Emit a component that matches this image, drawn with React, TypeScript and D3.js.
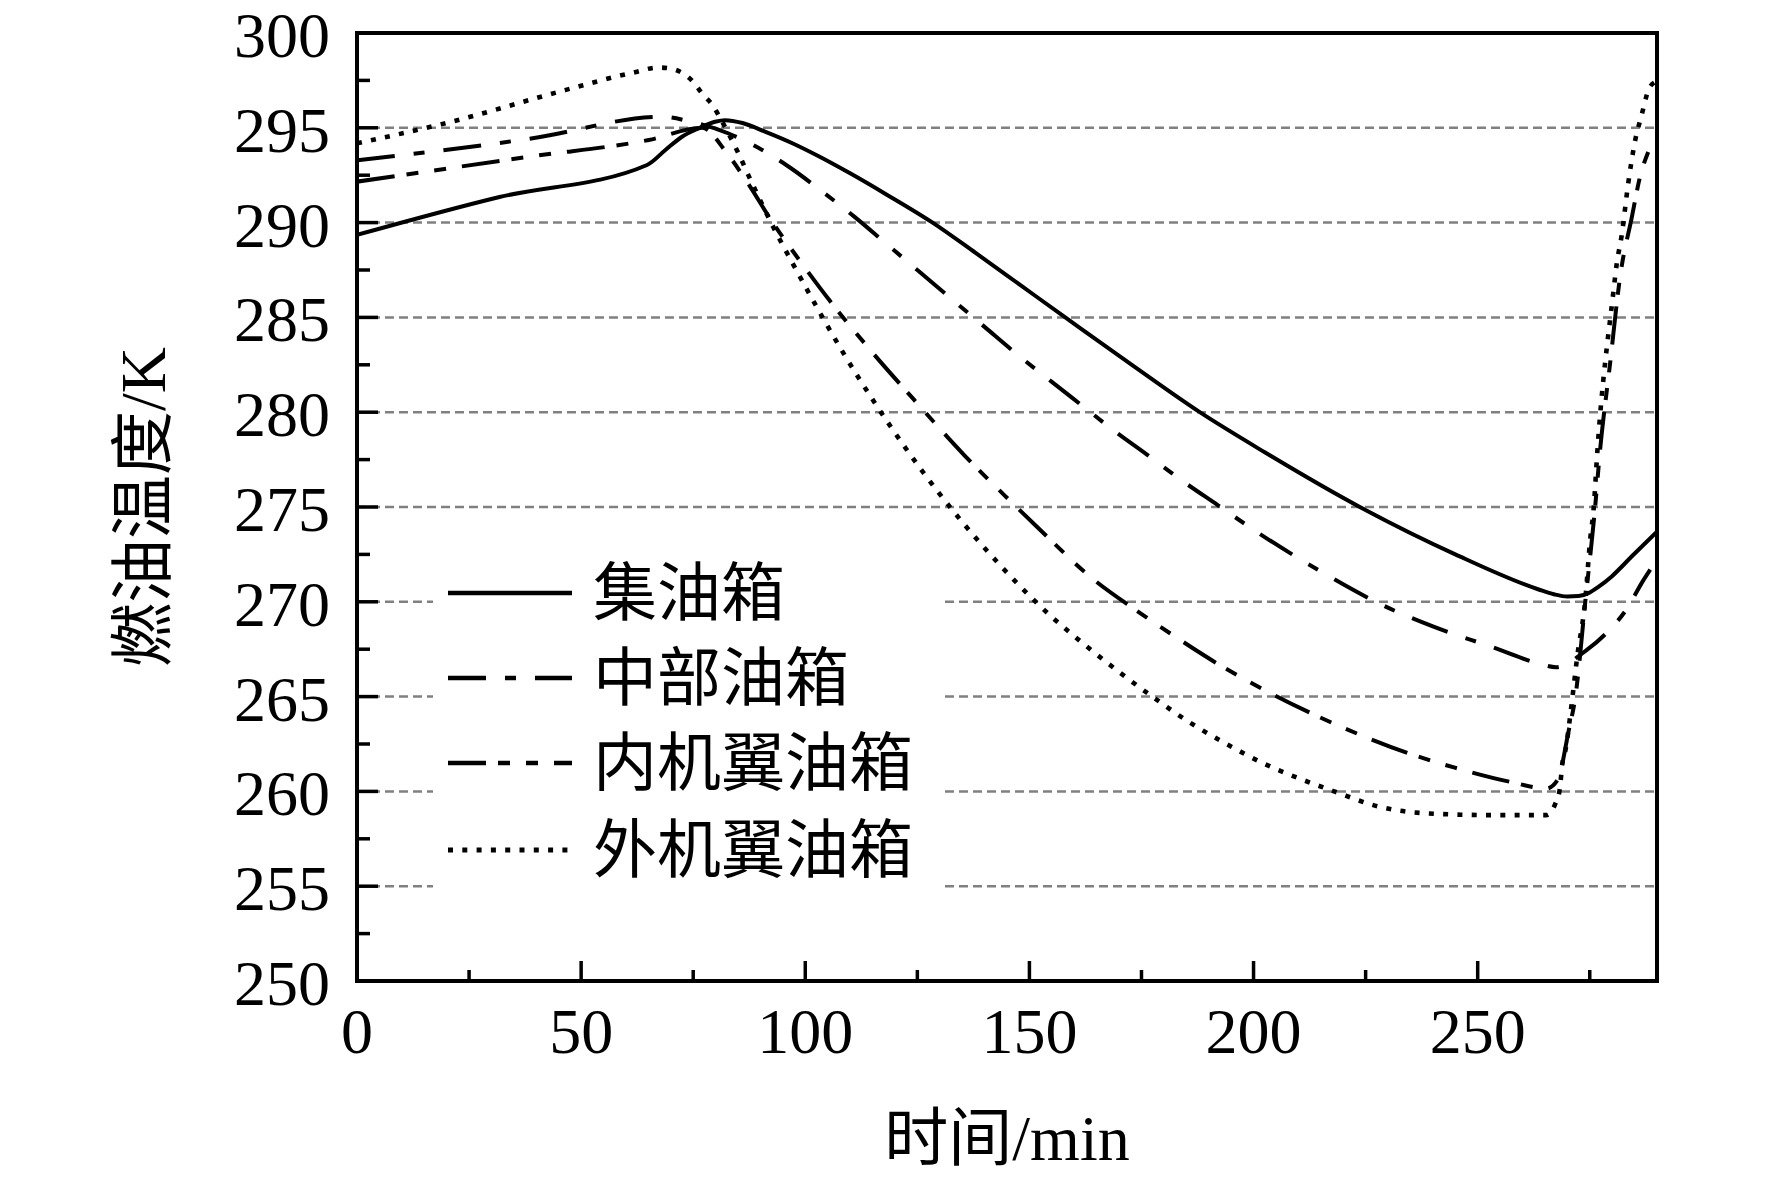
import React from 'react';
import * as d3 from 'd3';

type Pt = [number, number];

const xTicks = [0, 50, 100, 150, 200, 250];
const xMinorTicks = [25, 75, 125, 175, 225, 275];
const yTicks = [250, 255, 260, 265, 270, 275, 280, 285, 290, 295, 300];
const yMinorTicks = [252.5, 257.5, 262.5, 267.5, 272.5, 277.5, 282.5, 287.5, 292.5, 297.5];
const gridValues = [255, 260, 265, 270, 275, 280, 285, 290, 295];
const seriesNames = ['集油箱', '中部油箱', '内机翼油箱', '外机翼油箱'];

const collectorTank: Pt[] = [
  [0, 289.35], [31.8, 291.35], [64.7, 293.04], [68.8, 293.83], [72.5, 294.53], [76.2, 294.97],
  [79.9, 295.32], [82.1, 295.4], [86, 295.25], [91, 294.8], [97, 294.2], [103, 293.5],
  [110, 292.6], [118, 291.5], [128.4, 290.0], [138, 288.4], [148, 286.7], [158, 285.0],
  [173.4, 282.4], [188, 280.0], [202.4, 277.9], [223.7, 275.0], [245, 272.5], [263.6, 270.65],
  [267, 270.4], [270, 270.28], [272.5, 270.3], [274.7, 270.46], [277, 270.8], [279.9, 271.34],
  [284.4, 272.4], [290, 273.7],
];

const centerTank: Pt[] = [
  [0, 293.29], [39.2, 294.45], [68.1, 295.58], [74, 295.35], [82.9, 294.7], [87.5, 294.2],
  [96, 293.0], [104, 291.6], [111, 290.3], [118, 288.9], [125, 287.5], [133, 285.9],
  [140, 284.5], [147, 283.1], [155, 281.6], [162, 280.3], [169, 279.0], [176, 277.8],
  [184, 276.4], [192, 275.1], [200, 273.8], [215, 271.6], [229, 269.8], [240, 268.7],
  [253.4, 267.6], [263.6, 266.75], [267.5, 266.55], [274, 267.4], [278.5, 268.3], [283.6, 269.75],
  [286.6, 271.0], [288.5, 271.7],
];

const innerWingTank: Pt[] = [
  [0, 292.16], [39.2, 293.5], [65.1, 294.36], [77, 295.0], [82.4, 293.7], [87.4, 292.0],
  [92.2, 290.2], [100.3, 287.5], [105.4, 285.9], [114.8, 283.2], [124.1, 280.7], [135.6, 277.7],
  [144.5, 275.6], [151.5, 274.0], [164.2, 271.2], [173.5, 269.6], [182.9, 268.1], [192.2, 266.7],
  [202.4, 265.35], [212.6, 264.15], [223.6, 263.0], [234.7, 262.0], [244.9, 261.25], [257.3, 260.5],
  [265.3, 260.15], [267.8, 260.6], [270.3, 263.2], [271.8, 265], [274, 270], [276.2, 275],
  [277.3, 278], [279.5, 282.5], [281.8, 287.2], [284.4, 290.3], [286.2, 292.4], [288, 293.7],
  [289.5, 294.4],
];

const outerWingTank: Pt[] = [
  [0, 294.18], [20.7, 295.3], [46.6, 297.0], [61.4, 297.9], [67.3, 298.18], [69.9, 298.13],
  [72.9, 297.84], [75.1, 297.4], [77, 296.8], [79.3, 296.2], [80.8, 295.6], [83.3, 294.5],
  [85, 293.7], [87.5, 292.4], [90.1, 291.1], [93, 289.7], [97.3, 287.8], [102.9, 285.4],
  [108.8, 283.0], [115.2, 280.6], [122.4, 278.1], [129.6, 275.8], [139.4, 273.0], [148, 270.8],
  [155, 269.2], [162, 267.8], [170, 266.3], [178, 264.9], [186, 263.6], [194, 262.5],
  [202, 261.5], [210, 260.7], [218, 260.0], [227.9, 259.2], [238.1, 258.85], [253.4, 258.75],
  [265.3, 258.75], [267.4, 259.4], [268.3, 260.1], [268.9, 261.5], [269.6, 262.2], [270.8, 264.3],
  [272.2, 267.1], [274, 270.1], [275.1, 273.3], [275.9, 275], [276.6, 277.6], [280.3, 286.4],
  [281, 287.8], [282.1, 289.3], [283.6, 292.1], [285.1, 294.3], [286.6, 295.7], [288.1, 297.0],
  [289.5, 297.4],
];

const seriesData: Pt[][] = [collectorTank, centerTank, innerWingTank, outerWingTank];
const dashPatterns = ['none', '38,19,11,19', '38,12,12,16,12,16', '5,9.3'];

const W = 1772;
const H = 1181;
const left = 357;
const right = 1657;
const top = 33;
const bottom = 981;

const NUM_FONT = '"Liberation Serif", "Times New Roman", serif';
const CJK_FONT = '"Liberation Serif", "Noto Sans CJK SC", serif';

export default function App() {
  const x = d3.scaleLinear().domain([0, 290]).range([left, right]);
  const y = d3.scaleLinear().domain([250, 300]).range([bottom, top]);
  const line = d3
    .line<Pt>()
    .x((d) => x(d[0]))
    .y((d) => y(d[1]))
    .curve(d3.curveMonotoneX);

  const legendRows = [593, 678, 763, 850];

  return (
    <div style={{ position: 'fixed', left: 0, top: 0, background: '#fff' }}>
      <svg width={W} height={H} viewBox={`0 0 ${W} ${H}`} style={{ display: 'block' }}>
        <rect x={0} y={0} width={W} height={H} fill="#fff" />
        <defs>
          <clipPath id="plotClip">
            <rect x={left} y={top} width={right - left} height={bottom - top} />
          </clipPath>
        </defs>

        {/* grid */}
        {gridValues.map((v) => (
          <line
            key={'g' + v}
            x1={left}
            x2={right}
            y1={y(v)}
            y2={y(v)}
            stroke="#808080"
            strokeWidth={2.5}
            strokeDasharray="9,5"
          />
        ))}

        {/* legend background */}
        <rect x={433} y={548} width={511} height={345} fill="#fff" />

        {/* series */}
        <g clipPath="url(#plotClip)">
          {seriesData.map((s, i) => (
            <path
              key={'s' + i}
              d={line(s) || ''}
              fill="none"
              stroke="#000"
              strokeWidth={i === 3 ? 4.6 : 4}
              strokeDasharray={dashPatterns[i] === 'none' ? undefined : dashPatterns[i]}
              strokeLinejoin="round"
            />
          ))}
        </g>

        {/* legend */}
        {seriesNames.map((name, i) => (
          <g key={'l' + i}>
            <line
              x1={448}
              x2={572}
              y1={legendRows[i]}
              y2={legendRows[i]}
              stroke="#000"
              strokeWidth={i === 3 ? 5 : 4.5}
              strokeDasharray={dashPatterns[i] === 'none' ? undefined : dashPatterns[i]}
            />
            <text
              x={593}
              y={legendRows[i]}
              dominantBaseline="central"
              fontFamily={CJK_FONT}
              fontSize={64}
              fill="#000"
            >
              {name}
            </text>
          </g>
        ))}

        {/* ticks */}
        {xTicks.map((v) => (
          <line key={'xt' + v} x1={x(v)} x2={x(v)} y1={bottom} y2={bottom - 20} stroke="#000" strokeWidth={3.5} />
        ))}
        {xMinorTicks.map((v) => (
          <line key={'xm' + v} x1={x(v)} x2={x(v)} y1={bottom} y2={bottom - 11} stroke="#000" strokeWidth={3.5} />
        ))}
        {yTicks.map((v) => (
          <line key={'yt' + v} x1={left} x2={left + 21} y1={y(v)} y2={y(v)} stroke="#000" strokeWidth={3.5} />
        ))}
        {yMinorTicks.map((v) => (
          <line key={'ym' + v} x1={left} x2={left + 13} y1={y(v)} y2={y(v)} stroke="#000" strokeWidth={3.5} />
        ))}

        {/* frame */}
        <rect
          x={left}
          y={top}
          width={right - left}
          height={bottom - top}
          fill="none"
          stroke="#000"
          strokeWidth={4}
        />

        {/* tick labels */}
        {xTicks.map((v) => (
          <text
            key={'xl' + v}
            x={x(v)}
            y={1053}
            textAnchor="middle"
            fontFamily={NUM_FONT}
            fontSize={64}
            fill="#000"
          >
            {v}
          </text>
        ))}
        {yTicks.map((v) => (
          <text
            key={'yl' + v}
            x={330}
            y={y(v) + 24}
            textAnchor="end"
            fontFamily={NUM_FONT}
            fontSize={64}
            fill="#000"
          >
            {v}
          </text>
        ))}

        {/* axis titles */}
        <text
          x={(left + right) / 2}
          y={1160}
          textAnchor="middle"
          fontFamily={CJK_FONT}
          fontSize={64}
          fill="#000"
        >
          时间/min
        </text>
        <text
          transform={`translate(143, ${(top + bottom) / 2}) rotate(-90)`}
          textAnchor="middle"
          dominantBaseline="central"
          fontFamily={CJK_FONT}
          fontSize={64}
          fill="#000"
        >
          燃油温度/K
        </text>
      </svg>
    </div>
  );
}
